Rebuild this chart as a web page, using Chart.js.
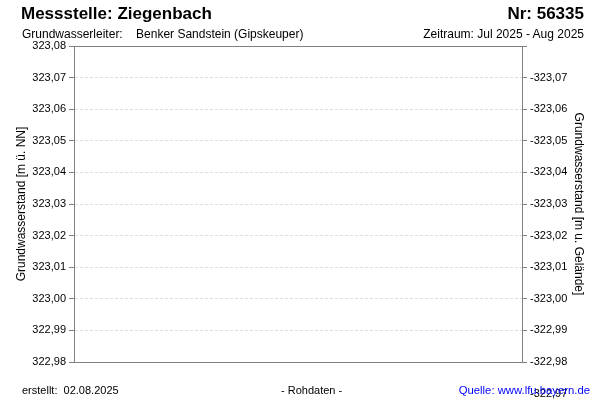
<!DOCTYPE html>
<html>
<head>
<meta charset="utf-8">
<script src="https://cdn.jsdelivr.net/npm/chart.js@4.4.0/dist/chart.umd.min.js"></script>
<style>
  body { margin: 0; background: #fff; font-family: "Liberation Sans", Arial, sans-serif; }
  #wrap { position: relative; width: 600px; height: 400px; overflow: hidden; }
  #wrap canvas { position: absolute; left: 0; top: 0; }
  .txt { position: absolute; white-space: pre; color: #000; line-height: 1; }
  .title { font-size: 17px; font-weight: bold; }
  .small { font-size: 12px; }
  .foot { font-size: 11px; }
</style>
</head>
<body>
<div id="wrap">
  <canvas id="chart" width="600" height="400"></canvas>
  <div class="txt title" style="left:21px; top:5px;">Messstelle: Ziegenbach</div>
  <div class="txt title" style="right:16px; top:5px;">Nr: 56335</div>
  <div class="txt small" style="left:22px; top:28px;">Grundwasserleiter:    Benker Sandstein (Gipskeuper)</div>
  <div class="txt small" style="right:16px; top:28px;">Zeitraum: Jul 2025 - Aug 2025</div>
  <div class="txt foot" style="left:22px; top:385px;">erstellt:  02.08.2025</div>
  <div class="txt foot" style="left:281px; top:385px;">- Rohdaten -</div>
  <div class="txt foot" style="right:10px; top:385px; color:#0000ff; font-size:11.3px;">Quelle: www.lfu.bayern.de</div>
</div>
<script>
// Messwerte (Zeitraum ohne Daten)
const levelNN = [];        // Grundwasserstand [m ü. NN]
const levelGOK = [];       // Grundwasserstand [m u. Gelände]

// Achsen
const leftMin = 322.98, leftMax = 323.08;
const rightMin = -323.08, rightMax = -322.98;
const tickStep = 0.01;
const extraRightTick = -322.97;   // label that spills below the plot

const fontFam = '"Liberation Sans", Arial, sans-serif';
const axisGray = '#808080';
const gridGray = '#dedede';

function fmt(v) {
  return v.toFixed(2).replace('.', ',');
}

// draws the right axis label that sits below the plot area
const spillLabel = {
  id: 'spillLabel',
  afterDraw(chart) {
    const s = chart.scales.y2;
    const y = s.getPixelForValue(extraRightTick);
    const ctx = chart.ctx;
    ctx.save();
    ctx.font = '11px ' + fontFam;
    ctx.fillStyle = '#000';
    ctx.textAlign = 'left';
    ctx.textBaseline = 'middle';
    ctx.fillText(fmt(extraRightTick), s.left + 8, y);
    ctx.restore();
  }
};

new Chart(document.getElementById('chart'), {
  type: 'line',
  data: {
    datasets: [
      { data: levelNN, yAxisID: 'y', xAxisID: 'x', borderColor: '#0000ff' },
      { data: levelGOK, yAxisID: 'y2', xAxisID: 'x', borderColor: '#0000ff' }
    ]
  },
  options: {
    responsive: false,
    animation: false,
    devicePixelRatio: 1,
    layout: { padding: 0 },
    plugins: { legend: { display: false }, tooltip: { enabled: false } },
    scales: {
      x: {
        type: 'linear', position: 'bottom', min: 0, max: 1,
        ticks: { display: false },
        grid: { display: false },
        border: { display: true, color: axisGray, width: 1 },
        afterFit(s) { s.height = 38; }
      },
      xTop: {
        type: 'linear', position: 'top', min: 0, max: 1,
        ticks: { display: false },
        grid: { display: false },
        border: { display: true, color: axisGray, width: 1 },
        afterFit(s) { s.height = 46; }
      },
      y: {
        position: 'left', min: leftMin, max: leftMax,
        ticks: {
          stepSize: tickStep, padding: 3, color: '#000',
          font: { family: fontFam, size: 11 },
          callback: v => fmt(v)
        },
        grid: {
          color: gridGray, tickLength: 5,
          tickColor: axisGray, tickBorderDash: []
        },
        border: { display: true, color: axisGray, width: 1, dash: [3, 2] },
        title: {
          display: true, text: 'Grundwasserstand [m ü. NN]', color: '#000',
          font: { family: fontFam, size: 12 }, padding: { top: 14, bottom: 0 }
        },
        afterFit(s) { s.width = 74; }
      },
      y2: {
        position: 'right', reverse: true, min: rightMin, max: rightMax,
        ticks: {
          stepSize: tickStep, padding: 3, color: '#000',
          font: { family: fontFam, size: 11 },
          callback: v => (Math.abs(v - rightMin) < 1e-6 ? '' : fmt(v))
        },
        grid: {
          drawOnChartArea: false, tickLength: 5, tickColor: axisGray
        },
        border: { display: true, color: axisGray, width: 1 },
        title: {
          display: true, text: 'Grundwasserstand [m u. Gelände]', color: '#000',
          font: { family: fontFam, size: 12 }, padding: { top: 14, bottom: 0 }
        },
        afterFit(s) { s.width = 78; }
      }
    }
  },
  plugins: [spillLabel]
});
</script>
</body>
</html>
